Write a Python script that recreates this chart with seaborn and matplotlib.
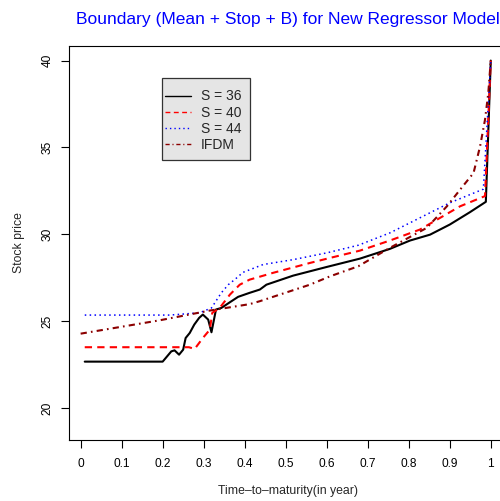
import numpy as np
import pandas as pd
import matplotlib
matplotlib.use("Agg")
import matplotlib.pyplot as plt
from matplotlib.patches import Rectangle
import seaborn as sns

# boundary curves
t_s36 = [0.01, 0.2, 0.221, 0.229, 0.24, 0.25, 0.256, 0.266, 0.277, 0.289, 0.298, 0.311,
         0.319, 0.33, 0.343, 0.364, 0.384, 0.412, 0.437, 0.453, 0.518, 0.6, 0.681, 0.754,
         0.803, 0.852, 0.9, 0.949, 0.988, 1.0]
b_s36 = [22.67, 22.67, 23.26, 23.32, 23.07, 23.36, 24.03, 24.32, 24.8, 25.19, 25.38, 25.09,
         24.36, 25.67, 25.76, 26.09, 26.4, 26.63, 26.82, 27.1, 27.62, 28.12, 28.6, 29.16,
         29.64, 29.98, 30.56, 31.27, 31.87, 40.0]

t_s40 = [0.01, 0.264, 0.278, 0.298, 0.315, 0.321, 0.339, 0.364, 0.388, 0.412, 0.469, 0.559,
         0.608, 0.681, 0.754, 0.827, 0.925, 0.986, 1.0]
b_s40 = [23.5, 23.5, 23.4, 24.03, 24.51, 25.48, 25.76, 26.53, 27.1, 27.39, 27.78, 28.35,
         28.64, 29.06, 29.64, 30.27, 31.61, 32.2, 40.0]

t_s44 = [0.01, 0.217, 0.29, 0.319, 0.343, 0.36, 0.376, 0.396, 0.445, 0.518, 0.6, 0.677,
         0.754, 0.9, 0.982, 1.0]
b_s44 = [25.35, 25.35, 25.48, 25.76, 26.63, 27.1, 27.4, 27.81, 28.26, 28.54, 28.93, 29.37,
         30.08, 31.81, 32.6, 40.0]

t_ifdm = [0.0, 0.168, 0.193, 0.315, 0.412, 0.437, 0.559, 0.608, 0.677, 0.754, 0.844, 0.893,
          0.933, 0.958, 0.974, 0.986, 0.994, 1.0]
b_ifdm = [24.28, 24.95, 25.05, 25.61, 25.98, 26.15, 27.1, 27.58, 28.16, 29.22, 30.37, 31.61,
          32.8, 33.53, 35.07, 36.6, 38.14, 40.0]

x_ticks = [0, 0.1, 0.2, 0.3, 0.4, 0.5, 0.6, 0.7, 0.8, 0.9, 1]
x_tick_labels = ["0", "0.1", "0.2", "0.3", "0.4", "0.5", "0.6", "0.7", "0.8", "0.9", "1"]
y_ticks = [20, 25, 30, 35, 40]

sns.set_style("white")
plt.rcParams["font.family"] = ["Liberation Sans", "DejaVu Sans"]

fig = plt.figure(figsize=(5, 5.01), dpi=100)
ax = fig.add_axes([0.137, 0.1218, 0.877, 0.7864])

series = [
    ("S = 36", t_s36, b_s36, "black", 1.5, None),
    ("S = 40", t_s40, b_s40, "red", 1.5, (3.5, 2.5)),
    ("S = 44", t_s44, b_s44, "blue", 1.1, (1, 2.2)),
    ("IFDM", t_ifdm, b_ifdm, "#8B0000", 1.5, (3, 2, 0.8, 2)),
]
for name, t, b, col, lw, dash in series:
    df = pd.DataFrame({"t": t, "b": b})
    sns.lineplot(data=df, x="t", y="b", ax=ax, color=col, linewidth=lw,
                 estimator=None, label=name)
    if dash is not None:
        ax.lines[-1].set_dashes(dash)

ax.set_xlim(-0.0296, 1.0396)
ax.set_ylim(18.16, 40.84)
ax.set_xticks(x_ticks)
ax.set_xticklabels(x_tick_labels)
ax.set_yticks(y_ticks)
ax.set_yticklabels([str(v) for v in y_ticks], rotation=90, va="center")
ax.tick_params(direction="out", length=5.5, width=0.8, colors="black",
               labelsize=8.6, bottom=True, left=True)
ax.tick_params(axis="x", pad=7.5)
ax.tick_params(axis="y", pad=5)
for s in ax.spines.values():
    s.set_color("black")
    s.set_linewidth(0.8)
ax.spines["right"].set_visible(False)

ax.set_xlabel("Time\u2013to\u2013maturity(in year)", fontsize=8.8, labelpad=11)
ax.set_ylabel("Stock price", fontsize=8.8, labelpad=12)
ax.set_title("Boundary (Mean + Stop + B) for New Regressor Model",
             color="blue", fontsize=12.5, pad=16)

# legend box like R's bg = "gray90"
box = Rectangle((162 / 500, 1 - 160 / 501), 88 / 500, 82 / 501,
                transform=fig.transFigure, facecolor="#E5E5E5",
                edgecolor="#333333", linewidth=0.9, zorder=4, clip_on=False)
ax.add_patch(box)
leg = ax.legend(loc="upper left", bbox_to_anchor=(165 / 500, 1 - 89.5 / 501),
                bbox_transform=fig.transFigure, borderaxespad=0, borderpad=0,
                frameon=False, fontsize=10, handlelength=1.85, handletextpad=0.75,
                labelspacing=0.16)
leg.set_zorder(5)
for h in leg.get_lines():
    h.set_linewidth(1.0)

fig.savefig("out.png", dpi=100)
